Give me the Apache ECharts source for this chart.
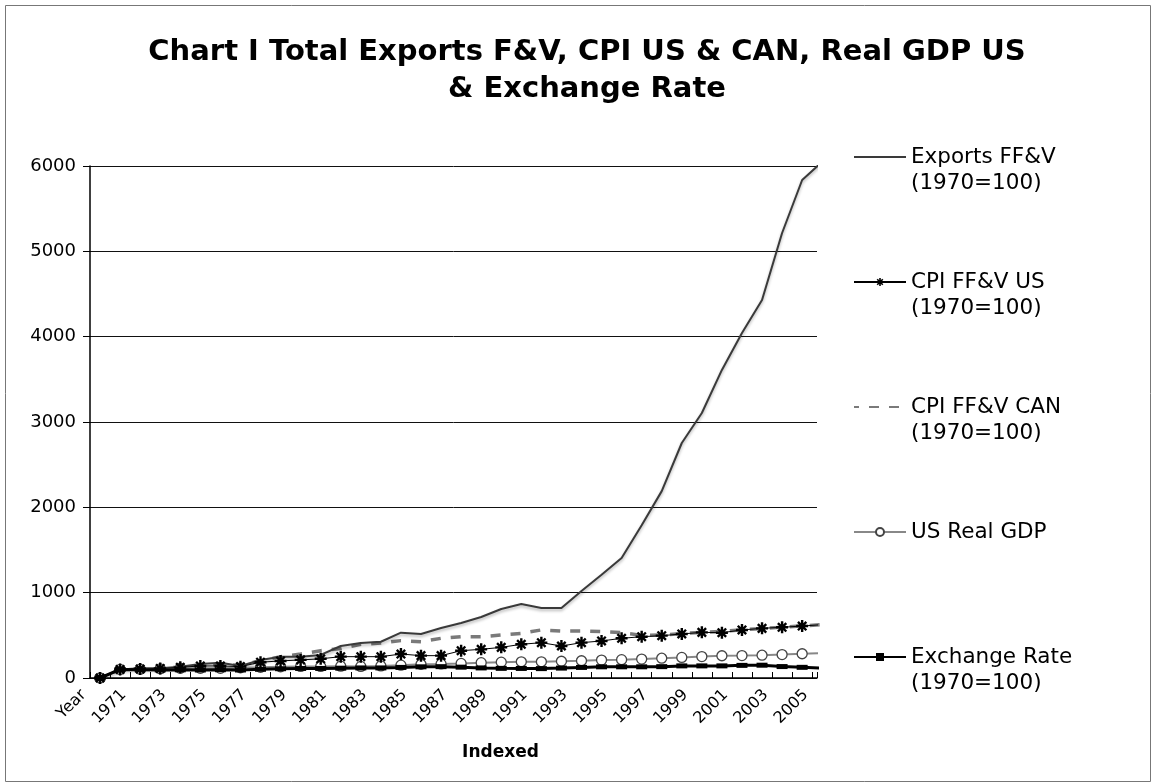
<!DOCTYPE html>
<html><head><meta charset="utf-8">
<script src="https://cdn.jsdelivr.net/npm/echarts@6/dist/echarts.min.js"></script>
<style>html,body{margin:0;padding:0;background:#fff}#c{width:1151px;height:783px}</style>
</head><body><div id="c"></div>
<script>
const categories = ['Year','1970','1971','1972','1973','1974','1975','1976','1977','1978','1979',
  '1980','1981','1982','1983','1984','1985','1986','1987','1988','1989',
  '1990','1991','1992','1993','1994','1995','1996','1997','1998','1999',
  '2000','2001','2002','2003','2004','2005'];
const exportsFFV = [0,100,113,113,133,164,180,141,211,250,250,270,375,410,425,531,516,586,645,715,809,867,820,820,1020,1210,1406,1790,2190,2754,3105,3610,4043,4430,5215,5836,6050];
const cpiUS = [0,100,105,112,125,141,141,133,185,200,212,225,250,250,250,281,262,262,320,336,359,395,414,375,414,434,465,484,496,516,535,531,563,582,594,609,625];
const cpiCAN = [0,100,104,112,128,150,160,150,200,250,281,320,345,395,410,438,426,465,484,484,504,523,563,551,551,543,531,500,505,520,535,545,565,580,595,610,625];
const realGDP = [0,100,103,108,114,113,113,119,125,132,136,136,139,136,142,150,160,165,171,180,186,190,190,196,202,210,215,222,232,241,251,261,263,267,274,284,292];
const exchangeRate = [0,100,97,95,96,94,97,94,102,109,112,112,115,118,118,124,131,133,127,118,113,112,110,116,124,131,131,131,133,142,142,142,148,150,134,125,116];
const seriesNames = ['Exports FF&V\n(1970=100)','CPI FF&V US\n(1970=100)','CPI FF&V CAN\n(1970=100)','US Real GDP','Exchange Rate\n(1970=100)'];

const toPts = arr => arr.map((v, i) => [i + 0.5, v]);
const star = 'path://M-1,-5L1,-5L1,5L-1,5Z M-5,-1L5,-1L5,1L-5,1Z M-4.2,-2.8L-2.8,-4.2L4.2,2.8L2.8,4.2Z M2.8,-4.2L4.2,-2.8L-2.8,4.2L-4.2,2.8Z';
const FONT = 'DejaVu Sans';

const chart = echarts.init(document.getElementById('c'), null, {renderer: 'canvas'});
chart.setOption({
  animation: false,
  backgroundColor: '#fff',
  textStyle: {fontFamily: FONT},
  title: {
    text: 'Chart I Total Exports F&V, CPI US & CAN, Real GDP US\n& Exchange Rate',
    left: 582, top: 29, textAlign: 'center',
    textStyle: {fontFamily: FONT, fontSize: 29, fontWeight: 'bold', color: '#000', lineHeight: 37}
  },
  graphic: [{
    type: 'rect', left: 3, top: 3, silent: true,
    shape: {width: 1145, height: 776},
    style: {fill: 'none', stroke: '#777', lineWidth: 1}
  }],
  legend: {
    orient: 'vertical', left: 853, top: 118, padding: 0,
    itemWidth: 52, itemHeight: 10, itemGap: 47,
    textStyle: {fontFamily: FONT, fontSize: 21.5, color: '#000', lineHeight: 26},
    formatter: name => name.indexOf('\n') >= 0 ? '\n' + name : '\n' + name + '\n',
    data: [
      {name: seriesNames[0], itemStyle: {opacity: 0}},
      seriesNames[1],
      {name: seriesNames[2], itemStyle: {opacity: 0}},
      seriesNames[3],
      seriesNames[4]
    ]
  },
  grid: {left: 90, right: 334, top: 166, bottom: 105, containLabel: false},
  xAxis: {
    type: 'value', min: 0, max: 36.24, interval: 1,
    axisLine: {lineStyle: {color: '#000', width: 1.5}},
    axisTick: {inside: true, length: 6, lineStyle: {color: '#000'}},
    splitLine: {show: false},
    axisLabel: {
      rotate: 45, fontSize: 16, color: '#000', margin: 8, fontFamily: FONT, padding: [0, 9, 0, 0],
      formatter: v => (Number.isInteger(v) && v % 2 === 0 && v < categories.length) ? categories[v] : ''
    },
    name: 'Indexed', nameLocation: 'middle', nameGap: 66,
    nameTextStyle: {fontFamily: FONT, fontWeight: 'bold', fontSize: 17, color: '#000', padding: [0, 0, 0, 94]}
  },
  yAxis: {
    type: 'value', min: 0, max: 6000, interval: 1000,
    axisLine: {show: true, lineStyle: {color: '#000', width: 1.5}},
    axisTick: {show: true, length: 7, lineStyle: {color: '#000'}},
    axisLabel: {fontSize: 18, color: '#000', margin: 14, fontFamily: FONT, formatter: v => String(v)},
    splitLine: {lineStyle: {color: '#111', width: 1}}
  },
  series: [
    {name: seriesNames[0], type: 'line', data: toPts(exportsFFV), symbol: 'none', z: 3,
     itemStyle: {color: '#3a3a3a'},
     lineStyle: {color: '#3a3a3a', width: 2, shadowColor: 'rgba(0,0,0,0.3)', shadowBlur: 3, shadowOffsetY: 2}},
    {name: seriesNames[1], type: 'line', data: toPts(cpiUS), symbol: star, symbolSize: 12, z: 4,
     itemStyle: {color: '#000'}, lineStyle: {color: '#000', width: 1}},
    {name: seriesNames[2], type: 'line', data: toPts(cpiCAN), symbol: 'none', z: 2,
     itemStyle: {color: '#7a7a7a'},
     lineStyle: {color: '#7a7a7a', width: 3.5, type: [10, 10], dashOffset: 5}},
    {name: seriesNames[3], type: 'line', data: toPts(realGDP), symbol: 'circle', symbolSize: 10, z: 3,
     itemStyle: {color: '#fff', borderColor: '#444', borderWidth: 1.3},
     lineStyle: {color: '#888', width: 2}},
    {name: seriesNames[4], type: 'line', data: toPts(exchangeRate), symbol: 'rect', symbolSize: [11, 5], z: 5,
     itemStyle: {color: '#000'}, lineStyle: {color: '#000', width: 3}}
  ]
});
</script>
</body></html>
